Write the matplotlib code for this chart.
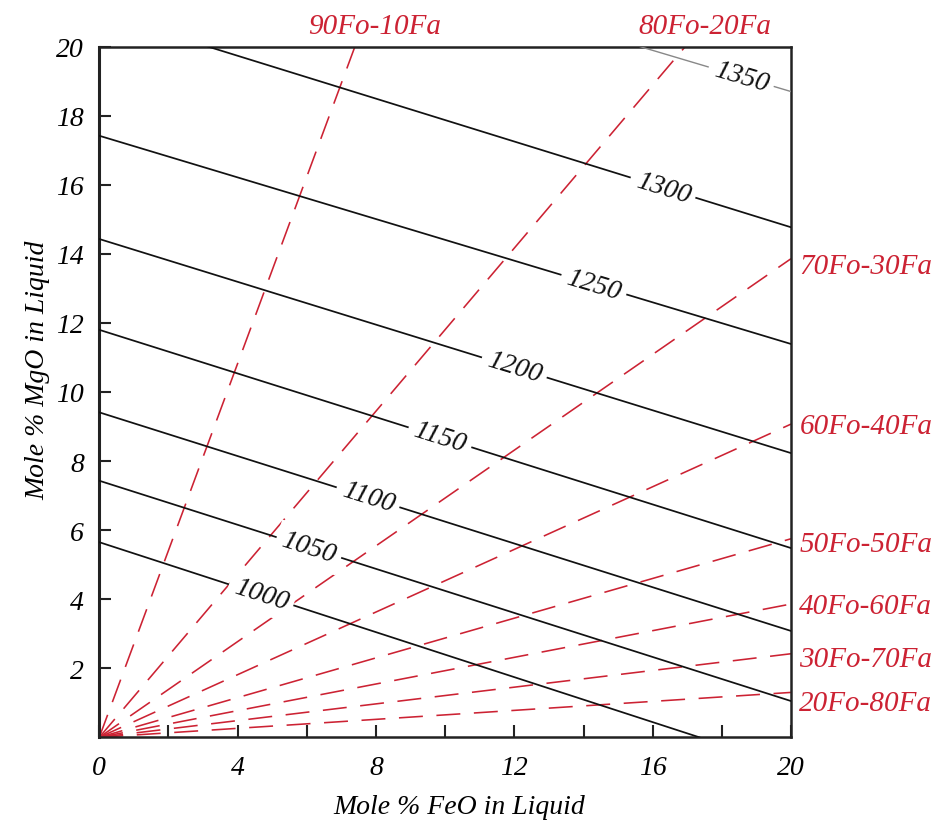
import numpy as np
import matplotlib
matplotlib.use("Agg")
import matplotlib.pyplot as plt

plt.rcParams["font.family"] = ["Liberation Serif", "DejaVu Serif"]
plt.rcParams["font.style"] = "italic"

# isotherms (deg C) - end points
iso_temps = [1000, 1050, 1100, 1150, 1200, 1250, 1300, 1350]
iso_x0 = [0, 0, 0, 0, 0, 0, 3.15, 15.64]
iso_y0 = [5.65, 7.43, 9.41, 11.8, 14.43, 17.42, 20, 20]
iso_x1 = [17.35, 20, 20, 20, 20, 20, 20, 20]
iso_y1 = [0, 1.05, 3.08, 5.48, 8.23, 11.39, 14.77, 18.7]

# olivine composition lines from the origin
ol_names = ["90Fo-10Fa", "80Fo-20Fa", "70Fo-30Fa", "60Fo-40Fa",
            "50Fo-50Fa", "40Fo-60Fa", "30Fo-70Fa", "20Fo-80Fa"]
ol_x_end = [7.39, 16.94, 20, 20, 20, 20, 20, 20]
ol_y_end = [20, 20, 13.86, 9.07, 5.75, 3.86, 2.42, 1.30]

# where the isotherm labels sit along x
iso_label_x = [4.68, 6.06, 7.77, 9.85, 12.0, 14.3, 16.3, 18.56]
# y of labels on the right side
ol_label_y = [13.65, 9.02, 5.6, 3.79, 2.28, 1.0]

red = "#cc2233"

fig = plt.figure(figsize=(9.36, 8.29), dpi=100)
ax = fig.add_axes([0.1061, 0.1094, 0.739, 0.8331])
ax.set_xlim(0, 20)
ax.set_ylim(0, 20)

# red dashed olivine lines
for name, xe, ye in zip(ol_names, ol_x_end, ol_y_end):
    ax.plot([0, xe], [0, ye], color=red, lw=1.15, dashes=(15, 8.5), zorder=2)

# isotherms
for i, t in enumerate(iso_temps):
    col = "#888888" if t == 1350 else "#111111"
    lw = 1.0 if t == 1350 else 1.25
    ax.plot([iso_x0[i], iso_x1[i]], [iso_y0[i], iso_y1[i]], color=col, lw=lw, zorder=3)

# labels along isotherms
for i, t in enumerate(iso_temps):
    slope = (iso_y1[i] - iso_y0[i]) / (iso_x1[i] - iso_x0[i])
    lx = iso_label_x[i]
    ly = iso_y0[i] + slope * (lx - iso_x0[i])
    ang = np.degrees(np.arctan(slope))
    rot = ax.transData.transform_angles(np.array([ang]), np.array([[lx, ly]]))[0]
    ax.text(lx, ly, str(t), rotation=rot, rotation_mode="anchor",
            ha="center", va="center", fontsize=20, color="#111111", zorder=5,
            bbox=dict(boxstyle="square,pad=0.22", fc="white", ec="none"))

# olivine labels
for i, name in enumerate(ol_names):
    if ol_y_end[i] >= 20:
        ax.annotate(name, (ol_x_end[i], 20), xytext=(14, 10), textcoords="offset points",
                    ha="center", va="baseline", fontsize=21, color=red,
                    annotation_clip=False)
    else:
        ax.annotate(name, (20, ol_label_y[i - 2]), xytext=(6, 0), textcoords="offset points",
                    ha="left", va="center", fontsize=21, color=red,
                    annotation_clip=False)

# axes styling
for s in ax.spines.values():
    s.set_linewidth(1.8)
    s.set_color("#222222")
ax.spines["left"].set_linewidth(2.2)

ax.set_xticks([0, 4, 8, 12, 16, 20])
ax.set_xticks([2, 6, 10, 14, 18], minor=True)
ax.set_yticks(np.arange(2, 21, 2))
ax.tick_params(axis="both", which="both", direction="in", length=8.5, width=1.5,
               color="#222222", top=False, right=False)
ax.tick_params(axis="x", which="major", pad=13, labelsize=20)
ax.tick_params(axis="y", which="major", pad=11, labelsize=20)

ax.set_xlabel("Mole % FeO in Liquid", fontsize=20)
ax.set_ylabel("Mole % MgO in Liquid", fontsize=20)
ax.xaxis.set_label_coords(0.52, -0.082)
ax.xaxis.label.set_va("top")
ax.yaxis.set_label_coords(-0.071, 0.533)

fig.savefig("out.png", dpi=100)
